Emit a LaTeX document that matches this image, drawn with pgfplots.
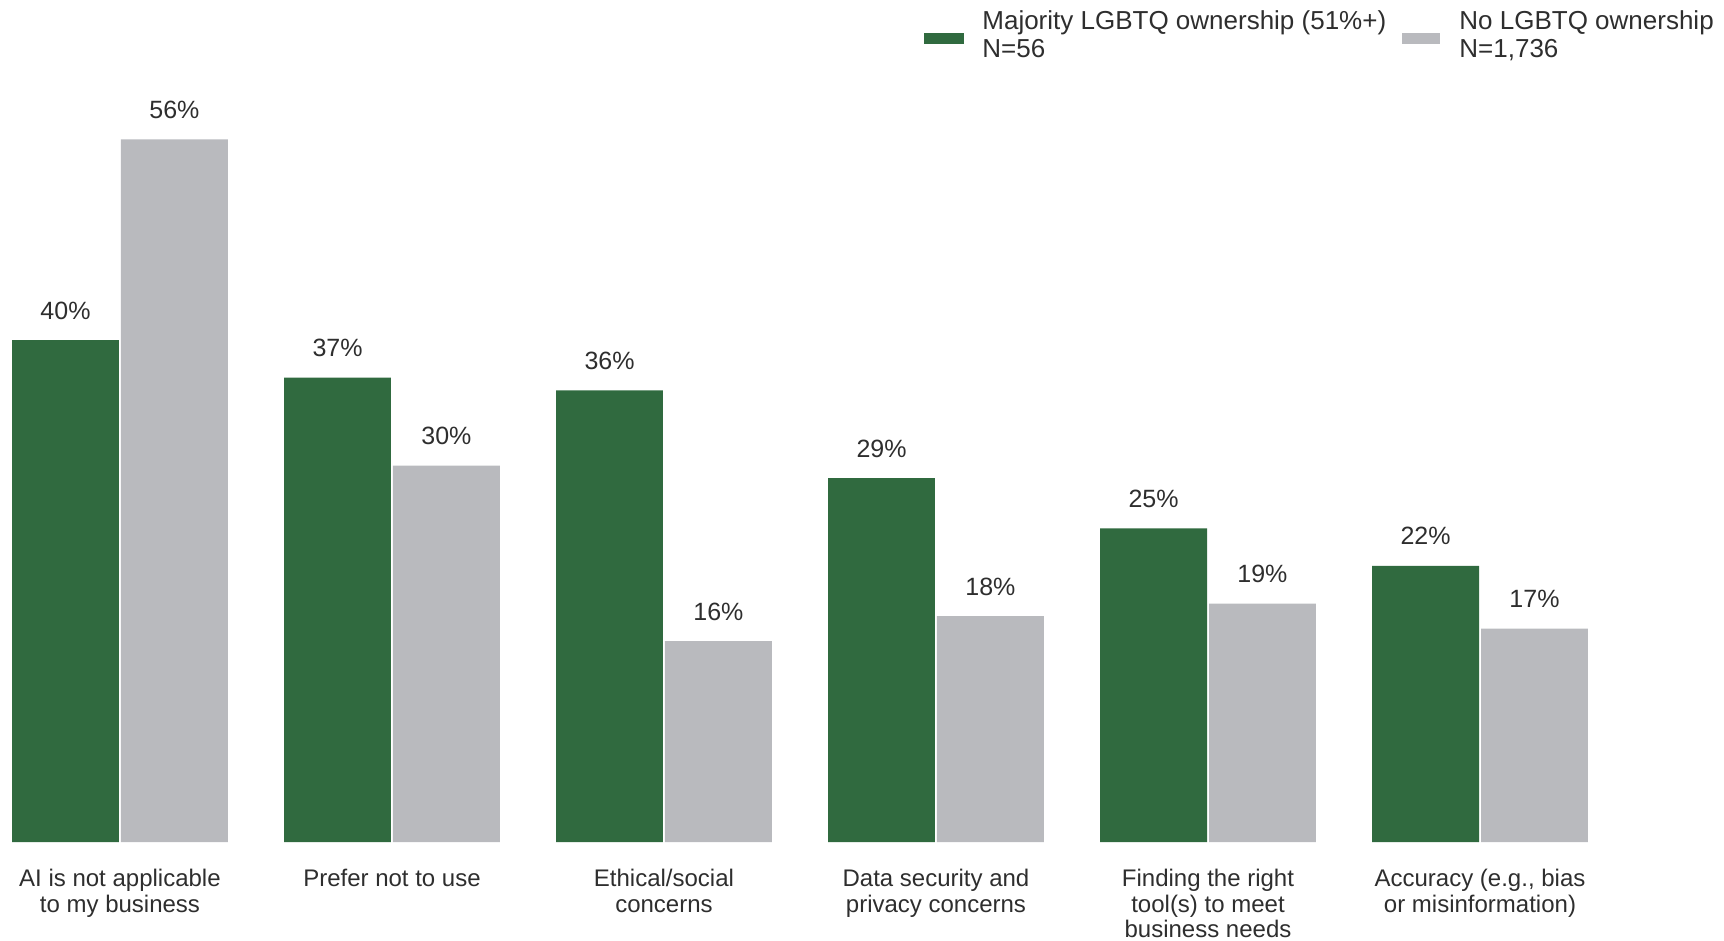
\documentclass[border=0pt]{standalone}
\usepackage{pgfplots}
\pgfplotsset{compat=1.18}
\usepackage{fontspec}
\setmainfont{Liberation Sans}
\definecolor{dgreen}{HTML}{306A3F}
\definecolor{lgray}{HTML}{B9BABE}
\definecolor{txt}{HTML}{2E2E2E}
\begin{document}
\begin{tikzpicture}
\begin{axis}[
  scale only axis,
  width=862pt, height=421pt,
  xmin=-0.441, xmax=5.897,
  ymin=0, ymax=67.1,
  ybar=1pt,
  bar width=0.393,
  axis x line*=bottom, axis y line*=left,
  axis line style={draw=none},
  major tick length=0pt,
  ytick=\empty,
  xtick={0,1,2,3,4,5},
  xtick style={draw=none},
  xticklabels={{AI is not applicable\\to my business},{Prefer not to use},{Ethical/social\\concerns},{Data security and\\privacy concerns},{Finding the right\\tool(s) to meet\\business needs},{Accuracy (e.g., bias\\or misinformation)}},
  xticklabel style={align=center, font=\fontsize{12}{12.8}\selectfont, text=txt, inner xsep=0pt, inner ysep=1pt, anchor=north, yshift=-12.4pt},
  /pgf/number format/assume math mode=true,
  nodes near coords={\pgfmathprintnumber{\pgfplotspointmeta}\%},
  every node near coord/.append style={font=\fontsize{12.5}{14}\selectfont, text=txt, anchor=base, inner sep=0pt, yshift=10.5pt},
  clip=false,
]
\addplot[fill=dgreen, draw=none] coordinates {(0,40) (1,37) (2,36) (3,29) (4,25) (5,22)};
\addplot[fill=lgray, draw=none] coordinates {(0,56) (1,30) (2,16) (3,18) (4,19) (5,17)};
% legend
\fill[dgreen] (rel axis cs:0.5360,0.9477) rectangle (rel axis cs:0.5592,0.9608);
\fill[lgray] (rel axis cs:0.8132,0.9477) rectangle (rel axis cs:0.8353,0.9608);
\begin{scope}[every node/.style={anchor=base west, inner sep=0pt, font=\fontsize{13}{14}\selectfont, text=txt}]
\node at (rel axis cs:0.5696,0.9651) {Majority LGBTQ ownership (51\%+)};
\node at (rel axis cs:0.5696,0.9318) {N=56};
\node at (rel axis cs:0.8463,0.9651) {No LGBTQ ownership};
\node at (rel axis cs:0.8463,0.9318) {N=1,736};
\end{scope}
\end{axis}
\end{tikzpicture}
\end{document}
